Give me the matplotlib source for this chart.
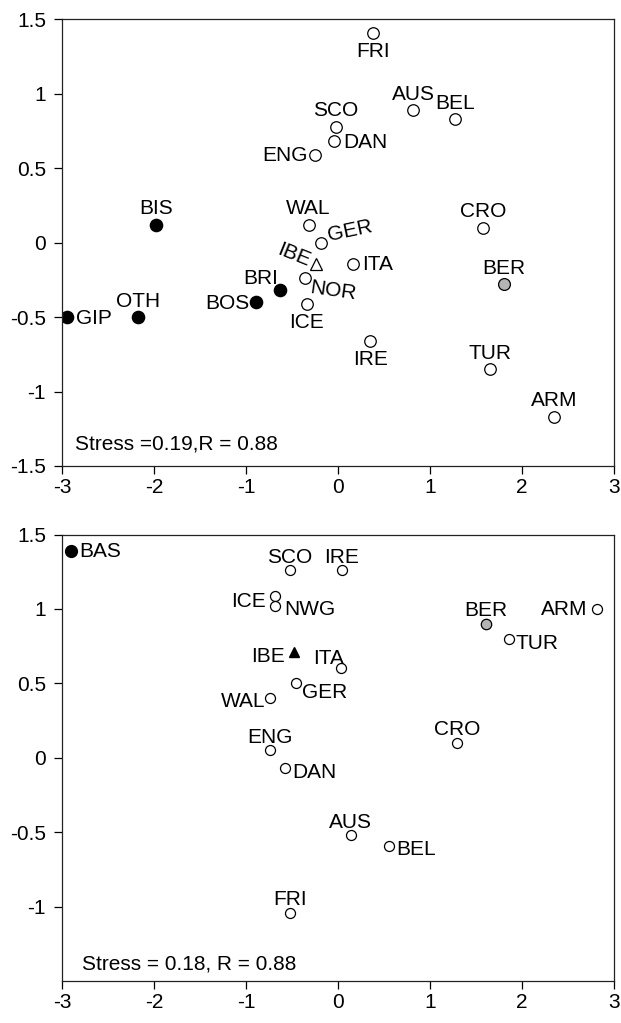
import matplotlib
matplotlib.use("Agg")
from matplotlib import pyplot as plt

plt.rcParams['font.family'] = ['Liberation Sans', 'DejaVu Sans']

# upper panel
top_names = ['FRI', 'AUS', 'BEL', 'SCO', 'DAN', 'ENG', 'WAL', 'GER', 'ITA', 'NOR',
             'ICE', 'IRE', 'CRO', 'TUR', 'ARM']
top_x = [0.38, 0.82, 1.27, -0.02, -0.04, -0.25, -0.32, -0.19, 0.16, -0.36,
         -0.34, 0.35, 1.58, 1.65, 2.35]
top_y = [1.41, 0.89, 0.83, 0.78, 0.68, 0.59, 0.12, 0.00, -0.14, -0.24,
         -0.41, -0.66, 0.10, -0.85, -1.17]
top_black_names = ['BIS', 'GIP', 'OTH', 'BOS', 'BRI']
top_black_x = [-1.98, -2.94, -2.17, -0.89, -0.63]
top_black_y = [0.12, -0.50, -0.50, -0.40, -0.32]
top_grey = ('BER', 1.80, -0.28)
top_tri = ('IBE', -0.24, -0.14)
top_note = 'Stress =0.19,R = 0.88'

# lower panel
bot_names = ['SCO', 'IRE', 'ICE', 'NWG', 'GER', 'WAL', 'ENG', 'DAN', 'ITA',
             'TUR', 'ARM', 'CRO', 'AUS', 'BEL', 'FRI']
bot_x = [-0.52, 0.04, -0.68, -0.68, -0.46, -0.74, -0.74, -0.58, 0.03,
         1.86, 2.81, 1.29, 0.14, 0.55, -0.52]
bot_y = [1.26, 1.26, 1.09, 1.02, 0.50, 0.40, 0.05, -0.07, 0.60,
         0.80, 1.00, 0.10, -0.52, -0.59, -1.04]
bot_black = ('BAS', -2.90, 1.39)
bot_grey = ('BER', 1.61, 0.90)
bot_tri = ('IBE', -0.48, 0.71)
bot_note = 'Stress = 0.18, R = 0.88'

# label placement: (dx px, dy px, ha, va, rotation)
A = (0, 16, 'center', 'center', 0)
B = (0, -19, 'center', 'center', 0)
R = (9, -1, 'left', 'center', 0)
L = (-7, -1, 'right', 'center', 0)
top_pos = {'FRI': B, 'AUS': A, 'BEL': A, 'SCO': A, 'DAN': R, 'ENG': L, 'WAL': A,
           'GER': (7, 7, 'left', 'center', 12), 'ITA': R,
           'NOR': (5, -9, 'left', 'center', -8), 'ICE': B, 'IRE': B, 'CRO': A,
           'TUR': A, 'ARM': A, 'BIS': A, 'GIP': R, 'OTH': A, 'BOS': L,
           'BRI': (-2, 12, 'right', 'center', 0), 'BER': A,
           'IBE': (-6, 2, 'right', 'center', -22)}
A2 = (0, 13, 'center', 'center', 0)
bot_pos = {'SCO': A2, 'IRE': A2, 'ICE': (-10, -6, 'right', 'center', 0),
           'NWG': (9, -4, 'left', 'center', 0), 'GER': (6, -9, 'left', 'center', 0),
           'WAL': (-5, -3, 'right', 'center', 0), 'ENG': A2,
           'DAN': (8, -4, 'left', 'center', 0), 'ITA': (3, 10, 'right', 'center', 0),
           'TUR': (6, -5, 'left', 'center', 0), 'ARM': (-9, -1, 'right', 'center', 0),
           'CRO': A2, 'AUS': A2, 'BEL': (8, -4, 'left', 'center', 0), 'FRI': A2,
           'BAS': (8, -1, 'left', 'center', 0), 'BER': A2,
           'IBE': (-9, -4, 'right', 'center', 0)}

FS = 15


def label(ax, name, x, y, pos):
    dx, dy, ha, va, rot = pos
    ax.annotate(name, (x, y), xytext=(dx * 0.72, dy * 0.72), textcoords='offset points',
                ha=ha, va=va, rotation=rot, rotation_mode='anchor', fontsize=FS)


def style(ax, yticks):
    ax.set_xlim(-3, 3)
    ax.set_ylim(-1.5, 1.5)
    ax.set_xticks([-3, -2, -1, 0, 1, 2, 3])
    ax.set_xticklabels(['-3', '-2', '-1', '0', '1', '2', '3'])
    ax.set_yticks(yticks)
    ax.set_yticklabels(['%g' % v for v in yticks])
    ax.tick_params(direction='out', length=5.5, width=0.9, labelsize=FS,
                   top=False, right=False)
    ax.tick_params(axis='x', pad=3)
    ax.tick_params(axis='y', pad=6)
    for s in ax.spines.values():
        s.set_linewidth(0.9)
        s.set_color('#222222')


fig = plt.figure(figsize=(6.21, 10.23), dpi=100)
ax1 = fig.add_axes([0.0998, 0.5445, 0.889, 0.4365])
ax2 = fig.add_axes([0.0998, 0.041, 0.889, 0.4365])

# top
ax1.plot(top_x, top_y, 'o', ms=8.3, mfc='white', mec='black', mew=0.9)
ax1.plot(top_black_x, top_black_y, 'o', ms=8.8, mfc='black', mec='black')
ax1.plot(top_grey[1], top_grey[2], 'o', ms=8.5, mfc='#b4b4b4', mec='black', mew=0.9)
ax1.plot(top_tri[1], top_tri[2], '^', ms=8, mfc='white', mec='black', mew=0.9)
for n, x, y in zip(top_names, top_x, top_y):
    label(ax1, n, x, y, top_pos[n])
for n, x, y in zip(top_black_names, top_black_x, top_black_y):
    label(ax1, n, x, y, top_pos[n])
label(ax1, top_grey[0], top_grey[1], top_grey[2], top_pos['BER'])
label(ax1, top_tri[0], top_tri[1], top_tri[2], top_pos['IBE'])
ax1.text(-2.86, -1.35, top_note, fontsize=FS, ha='left', va='center')
style(ax1, [-1.5, -1, -0.5, 0, 0.5, 1, 1.5])

# bottom
ax2.plot(bot_x, bot_y, 'o', ms=7.2, mfc='white', mec='black', mew=0.9)
ax2.plot(bot_black[1], bot_black[2], 'o', ms=8.5, mfc='black', mec='black')
ax2.plot(bot_grey[1], bot_grey[2], 'o', ms=7.5, mfc='#b4b4b4', mec='black', mew=0.9)
ax2.plot(bot_tri[1], bot_tri[2], '^', ms=7, mfc='black', mec='black')
for n, x, y in zip(bot_names, bot_x, bot_y):
    label(ax2, n, x, y, bot_pos[n])
label(ax2, bot_black[0], bot_black[1], bot_black[2], bot_pos['BAS'])
label(ax2, bot_grey[0], bot_grey[1], bot_grey[2], bot_pos['BER'])
label(ax2, bot_tri[0], bot_tri[1], bot_tri[2], bot_pos['IBE'])
ax2.text(-2.78, -1.385, bot_note, fontsize=FS, ha='left', va='center')
style(ax2, [-1, -0.5, 0, 0.5, 1, 1.5])

fig.savefig('out.png', dpi=100)
